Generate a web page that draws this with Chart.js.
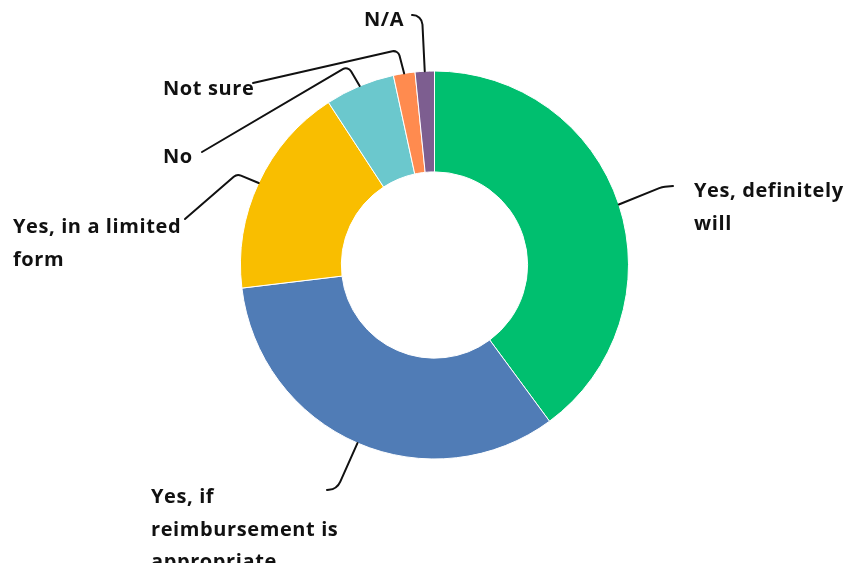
<!DOCTYPE html>
<html>
<head>
<meta charset="utf-8">
<script src="https://cdn.jsdelivr.net/npm/chart.js@4"></script>
<style>
  html, body { margin: 0; padding: 0; background: #fff; }
  #wrap { width: 849px; height: 569px; position: relative; }
</style>
</head>
<body>
<div id="wrap"><canvas id="c" width="849" height="569"></canvas></div>
<script>
// Survey answers, share of respondents (%)
const categories = [
  ['Yes, definitely', 'will'],
  ['Yes, if', 'reimbursement is', 'appropriate'],
  ['Yes, in a limited', 'form'],
  ['No'],
  ['Not sure'],
  ['N/A']
];
const shares = [39.9, 33.2, 17.7, 5.8, 1.8, 1.6];
const colors = ['#00BF6F', '#507CB6', '#F9BE00', '#6BC8CD', '#FF8B4F', '#7D5E90'];

// Callout placement: where each label sits and how its leader bends
const callouts = [
  { text: [694, 197], elbow: [662, 187], end: [673, 186], r: 20 },
  { text: [151, 503], elbow: [337, 489], end: [327, 490], r: 14 },
  { text: [13, 233],  elbow: [237, 174], end: [185, 219], r: 7 },
  { text: [163, 163], elbow: [348, 66],  end: [202, 152], r: 6 },
  { text: [163, 95],  elbow: [398, 50],  end: [253, 83],  r: 6 },
  { text: [364, 26],  elbow: [422, 15],  end: [412, 15],  r: 10 }
];

const FONT = 'bold 20px "Open Sans", sans-serif';
const SPACING = '0.6px';
const LINE_H = 32.5;

const calloutPlugin = {
  id: 'callouts',
  afterDraw(chart) {
    const ctx = chart.ctx;
    const arcs = chart.getDatasetMeta(0).data;
    ctx.save();
    ctx.beginPath();
    ctx.rect(0, 0, chart.width, 563);
    ctx.clip();
    arcs.forEach((arc, i) => {
      const c = callouts[i];
      const mid = (arc.startAngle + arc.endAngle) / 2;
      const sx = arc.x + Math.cos(mid) * arc.outerRadius;
      const sy = arc.y + Math.sin(mid) * arc.outerRadius;
      ctx.beginPath();
      ctx.moveTo(sx, sy);
      ctx.arcTo(c.elbow[0], c.elbow[1], c.end[0], c.end[1], c.r);
      ctx.lineTo(c.end[0], c.end[1]);
      ctx.strokeStyle = '#111';
      ctx.lineWidth = 2;
      ctx.lineCap = 'round';
      ctx.stroke();

      ctx.font = FONT;
      ctx.letterSpacing = SPACING;
      ctx.fillStyle = '#111';
      ctx.textAlign = 'left';
      ctx.textBaseline = 'alphabetic';
      categories[i].forEach((line, k) => {
        ctx.fillText(line, c.text[0], c.text[1] + k * LINE_H);
      });
    });
    ctx.restore();
  }
};

new Chart(document.getElementById('c'), {
  type: 'doughnut',
  data: {
    labels: categories.map(l => l.join(' ')),
    datasets: [{
      data: shares,
      backgroundColor: colors,
      borderColor: '#ffffff',
      borderWidth: 1
    }]
  },
  options: {
    responsive: false,
    animation: false,
    cutout: '48%',
    layout: { padding: { left: 240, right: 220, top: 70.5, bottom: 109.5 } },
    plugins: { legend: { display: false }, tooltip: { enabled: false } }
  },
  plugins: [calloutPlugin]
});
</script>
</body>
</html>
